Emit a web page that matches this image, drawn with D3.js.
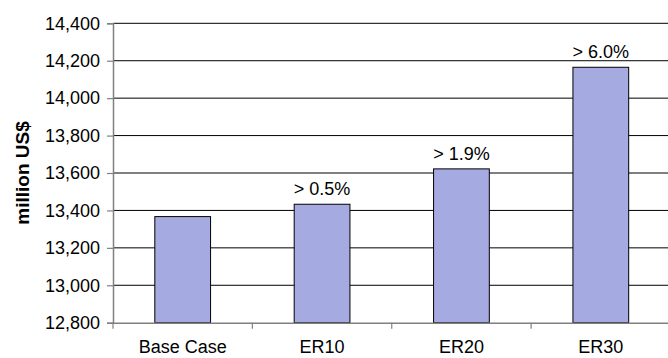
<!DOCTYPE html>
<html><head><meta charset="utf-8">
<script src="https://cdn.jsdelivr.net/npm/d3@7"></script>
<style>html,body{margin:0;padding:0;background:#fff;overflow:hidden}</style>
</head><body>
<svg id="c" width="668" height="358"></svg>
<script>
const categories = ["Base Case", "ER10", "ER20", "ER30"];
const values = [13367, 13433, 13622, 14165];
const barLabels = ["", "> 0.5%", "> 1.9%", "> 6.0%"];
const yTicks = [12800, 13000, 13200, 13400, 13600, 13800, 14000, 14200, 14400];
const yTitle = "million US$";

const svg = d3.select("#c");
const font = "'Liberation Sans', Arial, sans-serif";
const pLeft = 113, pRight = 670.5, pTop = 23.3, pBottom = 322.7;

const x = d3.scaleBand().domain(categories).range([pLeft, pRight]).padding(0);
const y = d3.scaleLinear().domain([12800, 14400]).range([pBottom, pTop]);

// gridlines
svg.append("g").selectAll("line").data(yTicks.slice(1)).join("line")
  .attr("x1", pLeft).attr("x2", pRight)
  .attr("y1", d => y(d)).attr("y2", d => y(d))
  .attr("stroke", "#000").attr("stroke-width", 1);

// bars
const bw = x.bandwidth() * 0.4;
svg.append("g").selectAll("rect").data(values).join("rect")
  .attr("x", (d, i) => x(categories[i]) + (x.bandwidth() - bw) / 2)
  .attr("y", d => y(d))
  .attr("width", bw)
  .attr("height", d => y(12800) - y(d))
  .attr("fill", "#a5abe0").attr("stroke", "#000").attr("stroke-width", 1);

// bar labels
svg.append("g").selectAll("text").data(values).join("text")
  .attr("x", (d, i) => x(categories[i]) + x.bandwidth() / 2)
  .attr("y", d => y(d) - 9)
  .attr("text-anchor", "middle")
  .attr("font-family", font).attr("font-size", 18).attr("fill", "#000")
  .text((d, i) => barLabels[i]);

// y axis
const yAxis = d3.axisLeft(y).tickValues(yTicks).tickSize(6).tickPadding(7)
  .tickFormat(d3.format(","));
const ga = svg.append("g").attr("transform", `translate(${pLeft},0)`).call(yAxis);
ga.select(".domain").attr("stroke", "#808080").attr("stroke-width", 1.5);
ga.selectAll(".tick line").attr("stroke", "#808080").attr("stroke-width", 1.2);
ga.selectAll(".tick text").attr("font-family", font).attr("font-size", 18).attr("fill", "#000");

// x axis
const xAxis = d3.axisBottom(x).tickSize(0).tickPadding(18);
const gx = svg.append("g").attr("transform", `translate(0,${pBottom})`).call(xAxis);
gx.select(".domain").attr("stroke", "#808080").attr("stroke-width", 1.5);
gx.selectAll(".tick text").attr("font-family", font).attr("font-size", 18).attr("fill", "#000");
// category boundary ticks
const bounds = categories.map(c => x(c)).concat([pRight]);
svg.append("g").selectAll("line").data(bounds).join("line")
  .attr("x1", d => d).attr("x2", d => d)
  .attr("y1", pBottom).attr("y2", pBottom + 6)
  .attr("stroke", "#808080").attr("stroke-width", 1.2);

// y title
svg.append("text")
  .attr("transform", `translate(29,${(pTop + pBottom) / 2}) rotate(-90)`)
  .attr("text-anchor", "middle")
  .attr("font-family", font).attr("font-size", 19).attr("font-weight", "bold")
  .attr("fill", "#000")
  .text(yTitle);
</script>
</body></html>
